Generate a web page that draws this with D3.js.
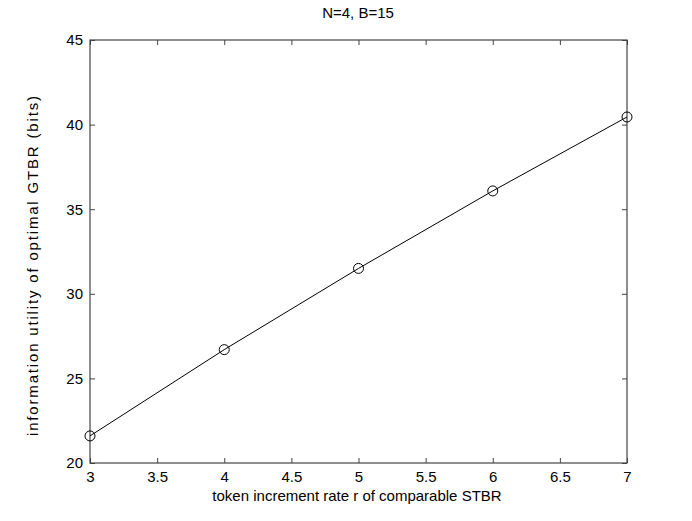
<!DOCTYPE html>
<html><head><meta charset="utf-8">
<script src="https://cdn.jsdelivr.net/npm/d3@7"></script>
<style>body{margin:0;background:#fff}svg{display:block}text{font-family:"Liberation Sans",Arial,sans-serif}</style>
</head><body>
<script>
const xValues = [3, 4, 5, 6, 7];
const yValues = [21.6, 26.7, 31.5, 36.08, 40.45];
const xTicks = [3, 3.5, 4, 4.5, 5, 5.5, 6, 6.5, 7];
const yTicks = [20, 25, 30, 35, 40, 45];
const title = "N=4, B=15";
const xLabel = "token increment rate r of comparable STBR";
const yLabel = "information utility of optimal GTBR (bits)";

const W = 692, H = 521;
const L = 90, R = 627, T = 40, B = 463;
const svg = d3.select("body").append("svg").attr("width", W).attr("height", H);
const x = d3.scaleLinear().domain([3, 7]).range([L, R]);
const y = d3.scaleLinear().domain([20, 45]).range([B, T]);
const axc = "#444";
const fs = 15;

function styleAxis(g){
  g.select(".domain").remove();
  g.selectAll(".tick line").attr("stroke", axc);
  g.selectAll(".tick text").attr("fill", "#000").attr("font-size", fs).attr("font-family", '"Liberation Sans",Arial,sans-serif');
}
svg.append("g").attr("transform", `translate(0,${B})`)
  .call(d3.axisBottom(x).tickValues(xTicks).tickSizeInner(-5).tickSizeOuter(0).tickPadding(8).tickFormat(d3.format("")))
  .call(styleAxis);
svg.append("g").attr("transform", `translate(0,${T})`)
  .call(d3.axisTop(x).tickValues(xTicks).tickSizeInner(-5).tickSizeOuter(0).tickFormat(""))
  .call(styleAxis);
svg.append("g").attr("transform", `translate(${L},0)`)
  .call(d3.axisLeft(y).tickValues(yTicks).tickSizeInner(-5).tickSizeOuter(0).tickPadding(7).tickFormat(d3.format("")))
  .call(styleAxis);
svg.append("g").attr("transform", `translate(${R},0)`)
  .call(d3.axisRight(y).tickValues(yTicks).tickSizeInner(-5).tickSizeOuter(0).tickFormat(""))
  .call(styleAxis);
svg.append("rect").attr("x", L).attr("y", T).attr("width", R-L).attr("height", B-T)
  .attr("fill", "none").attr("stroke", axc).attr("stroke-width", 1.2);

const pts = xValues.map((v,i)=>[v, yValues[i]]);
svg.append("path").datum(pts)
  .attr("d", d3.line().x(d=>x(d[0])).y(d=>y(d[1])))
  .attr("fill","none").attr("stroke","#000").attr("stroke-width",1);
svg.selectAll("circle.pt").data(pts).enter().append("circle")
  .attr("cx", d=>x(d[0])).attr("cy", d=>y(d[1])).attr("r", 5)
  .attr("fill","none").attr("stroke","#000").attr("stroke-width",1);

svg.append("text").attr("x", 358).attr("y", 18).attr("text-anchor","middle").attr("font-size", fs).text(title);
svg.append("text").attr("x", 357).attr("y", 501).attr("text-anchor","middle").attr("font-size", fs).text(xLabel);
svg.append("text").attr("transform", `translate(38,266) rotate(-90)`).attr("text-anchor","middle").attr("font-size", fs)
  .attr("textLength", 340).attr("lengthAdjust", "spacing").text(yLabel);
</script>
</body></html>
